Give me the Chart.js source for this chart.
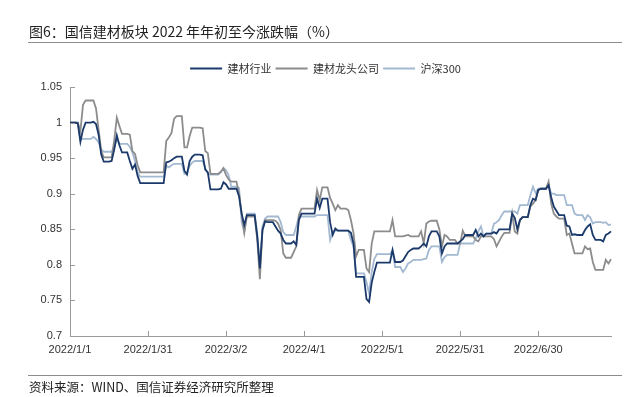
<!DOCTYPE html>
<html>
<head>
<meta charset="utf-8">
<script src="https://cdn.jsdelivr.net/npm/chart.js@4"></script>
<style>
  body { margin: 0; background: #fff; }
  #page { position: relative; width: 634px; height: 397px; overflow: hidden; font-family: "Noto Sans CJK SC", sans-serif; color: #222; }
  #chart { position: absolute; left: 0; top: 0; }
  .title { position: absolute; left: 29px; top: 21px; font-size: 14px; line-height: 20px; }
  .source { position: absolute; left: 29px; top: 378px; font-size: 12.5px; line-height: 18px; }
  .rule { position: absolute; left: 28px; width: 594px; height: 1px; background: #8c8c8c; }
</style>
</head>
<body>
<div id="page">
  <canvas id="chart" width="634" height="397"></canvas>
  <div class="title">图6：国信建材板块 2022 年年初至今涨跌幅（%）</div>
  <div class="rule" style="top:42px"></div>
  <div class="rule" style="top:375px"></div>
  <div class="source">资料来源：WIND、国信证券经济研究所整理</div>
</div>
<script>
// one label per calendar day, 2022/1/1 .. 2022/7/28
const startDate = new Date(2022, 0, 1)
const dayCount = 209
const dates = []
for (let i = 0; i < dayCount; i++) {
  const d = new Date(startDate.getFullYear(), startDate.getMonth(), startDate.getDate() + i)
  dates.push(d.getFullYear() + '/' + (d.getMonth() + 1) + '/' + d.getDate())
}
const xTickLabels = ['2022/1/1', '2022/1/31', '2022/3/2', '2022/4/1', '2022/5/1', '2022/5/31', '2022/6/30']
const yTickValues = [0.7, 0.75, 0.8, 0.85, 0.9, 0.95, 1, 1.05]
const yTickLabels = ['0.7', '0.75', '0.8', '0.85', '0.9', '0.95', '1', '1.05']

const seriesNames = ['建材行业', '建材龙头公司', '沪深300']

// rows of 7 days, each row starts on a Saturday
const industry = [
  1.000, 1.000, 1.000, 0.999, 0.973, 0.990, 1.000,
  1.000, 1.000, 1.001, 0.998, 0.983, 0.955, 0.945,
  0.945, 0.945, 0.946, 0.962, 0.982, 0.968, 0.958,
  0.958, 0.958, 0.946, 0.935, 0.941, 0.925, 0.915,
  0.915, 0.915, 0.915, 0.915, 0.915, 0.915, 0.915,
  0.915, 0.915, 0.944, 0.945, 0.947, 0.950, 0.952,
  0.952, 0.952, 0.932, 0.927, 0.946, 0.952, 0.955,
  0.955, 0.955, 0.954, 0.934, 0.930, 0.906, 0.906,
  0.906, 0.906, 0.907, 0.916, 0.913, 0.907, 0.907,
  0.907, 0.907, 0.896, 0.872, 0.856, 0.870, 0.870,
  0.870, 0.870, 0.840, 0.795, 0.849, 0.861, 0.860,
  0.860, 0.860, 0.854, 0.848, 0.844, 0.835, 0.830,
  0.830, 0.830, 0.833, 0.828, 0.863, 0.872, 0.872,
  0.872, 0.872, 0.872, 0.872, 0.893, 0.880, 0.893,
  0.893, 0.893, 0.860, 0.842, 0.851, 0.848, 0.848,
  0.848, 0.848, 0.848, 0.845, 0.830, 0.783, 0.783,
  0.783, 0.783, 0.752, 0.748, 0.775, 0.790, 0.803,
  0.803, 0.803, 0.803, 0.803, 0.803, 0.821, 0.804,
  0.804, 0.804, 0.806, 0.812, 0.818, 0.821, 0.823,
  0.823, 0.823, 0.826, 0.830, 0.826, 0.840, 0.847,
  0.847, 0.847, 0.840, 0.816, 0.826, 0.830, 0.830,
  0.830, 0.830, 0.830, 0.833, 0.836, 0.842, 0.842,
  0.842, 0.842, 0.849, 0.840, 0.844, 0.840, 0.844,
  0.844, 0.844, 0.846, 0.844, 0.850, 0.850, 0.850,
  0.850, 0.850, 0.872, 0.866, 0.850, 0.863, 0.867,
  0.867, 0.867, 0.884, 0.893, 0.891, 0.905, 0.907,
  0.907, 0.907, 0.912, 0.895, 0.882, 0.876, 0.870,
  0.870, 0.870, 0.855, 0.854, 0.842, 0.843, 0.842,
  0.842, 0.842, 0.849, 0.854, 0.857, 0.842, 0.835,
  0.835, 0.835, 0.833, 0.842, 0.844, 0.847
]
const leaders = [
  1.000, 1.000, 1.000, 1.000, 0.988, 1.025, 1.031,
  1.031, 1.031, 1.031, 1.020, 0.990, 0.960, 0.951,
  0.951, 0.951, 0.951, 0.975, 1.007, 0.995, 0.984,
  0.984, 0.984, 0.983, 0.960, 0.956, 0.940, 0.930,
  0.930, 0.930, 0.930, 0.930, 0.930, 0.930, 0.930,
  0.930, 0.930, 0.974, 0.979, 0.985, 1.005, 1.009,
  1.009, 1.009, 0.965, 0.965, 0.981, 0.993, 0.993,
  0.993, 0.993, 0.992, 0.960, 0.957, 0.928, 0.928,
  0.928, 0.928, 0.931, 0.936, 0.926, 0.920, 0.917,
  0.917, 0.917, 0.900, 0.872, 0.845, 0.868, 0.868,
  0.868, 0.868, 0.835, 0.780, 0.849, 0.863, 0.863,
  0.863, 0.863, 0.862, 0.858, 0.849, 0.816, 0.810,
  0.810, 0.810, 0.818, 0.826, 0.870, 0.879, 0.879,
  0.879, 0.879, 0.879, 0.879, 0.905, 0.891, 0.909,
  0.909, 0.909, 0.894, 0.886, 0.877, 0.884, 0.879,
  0.879, 0.879, 0.877, 0.863, 0.845, 0.812, 0.821,
  0.821, 0.821, 0.795, 0.790, 0.830, 0.847, 0.847,
  0.847, 0.847, 0.847, 0.847, 0.847, 0.863, 0.840,
  0.840, 0.840, 0.840, 0.841, 0.842, 0.840, 0.840,
  0.840, 0.840, 0.847, 0.830, 0.858, 0.861, 0.862,
  0.862, 0.862, 0.850, 0.826, 0.842, 0.840, 0.835,
  0.835, 0.835, 0.830, 0.830, 0.848, 0.840, 0.840,
  0.840, 0.840, 0.835, 0.833, 0.840, 0.840, 0.840,
  0.840, 0.840, 0.836, 0.826, 0.833, 0.840, 0.845,
  0.845, 0.845, 0.872, 0.847, 0.844, 0.863, 0.867,
  0.867, 0.867, 0.882, 0.886, 0.891, 0.905, 0.907,
  0.907, 0.907, 0.917, 0.886, 0.872, 0.868, 0.865,
  0.865, 0.865, 0.842, 0.844, 0.830, 0.816, 0.816,
  0.816, 0.816, 0.826, 0.822, 0.823, 0.804, 0.793,
  0.793, 0.793, 0.793, 0.807, 0.802, 0.808
]
const hs300 = [
  1.000, 1.000, 1.000, 1.000, 0.976, 0.977, 0.977,
  0.977, 0.977, 0.980, 0.977, 0.972, 0.962, 0.959,
  0.959, 0.959, 0.959, 0.965, 0.976, 0.970, 0.970,
  0.970, 0.970, 0.966, 0.958, 0.946, 0.930, 0.924,
  0.924, 0.924, 0.924, 0.924, 0.924, 0.924, 0.924,
  0.924, 0.924, 0.939, 0.937, 0.940, 0.942, 0.942,
  0.942, 0.942, 0.928, 0.930, 0.939, 0.944, 0.946,
  0.946, 0.946, 0.946, 0.936, 0.928, 0.927, 0.927,
  0.927, 0.927, 0.930, 0.936, 0.933, 0.926, 0.910,
  0.910, 0.910, 0.908, 0.860, 0.846, 0.872, 0.872,
  0.872, 0.872, 0.844, 0.797, 0.854, 0.865, 0.868,
  0.868, 0.868, 0.868, 0.868, 0.860, 0.846, 0.842,
  0.842, 0.842, 0.842, 0.854, 0.868, 0.868, 0.868,
  0.868, 0.868, 0.868, 0.868, 0.870, 0.870, 0.870,
  0.870, 0.870, 0.835, 0.847, 0.848, 0.848, 0.848,
  0.848, 0.848, 0.848, 0.835, 0.826, 0.788, 0.788,
  0.788, 0.788, 0.776, 0.760, 0.790, 0.808, 0.815,
  0.815, 0.815, 0.815, 0.815, 0.815, 0.820, 0.797,
  0.797, 0.797, 0.790, 0.795, 0.802, 0.804, 0.807,
  0.807, 0.807, 0.807, 0.808, 0.809, 0.821, 0.826,
  0.826, 0.826, 0.826, 0.804, 0.811, 0.814, 0.814,
  0.814, 0.814, 0.814, 0.830, 0.830, 0.830, 0.830,
  0.830, 0.830, 0.837, 0.847, 0.854, 0.840, 0.844,
  0.844, 0.844, 0.858, 0.860, 0.863, 0.870, 0.875,
  0.875, 0.875, 0.875, 0.875, 0.872, 0.884, 0.884,
  0.884, 0.884, 0.898, 0.910, 0.901, 0.907, 0.907,
  0.907, 0.907, 0.912, 0.900, 0.900, 0.898, 0.898,
  0.898, 0.898, 0.884, 0.884, 0.884, 0.872, 0.870,
  0.870, 0.870, 0.863, 0.870, 0.867, 0.858, 0.860,
  0.860, 0.860, 0.859, 0.860, 0.856, 0.857
]

const colors = ['#1b3a6b', '#8c8c8c', '#a3b9d2']
const axisColor = '#9a9a9a'
const tickFont = { family: 'Liberation Sans, Arial, sans-serif', size: 11 }

// small tick marks pointing into the plot, like the original
const innerTicks = {
  id: 'innerTicks',
  beforeInit(chart) {
    // leave a bit more room under the legend
    const fit = chart.legend.fit
    chart.legend.fit = function () {
      fit.call(this)
      this.height += 3
    }
  },
  afterDraw(chart) {
    const { ctx, chartArea, scales } = chart
    ctx.save()
    ctx.strokeStyle = axisColor
    ctx.lineWidth = 1
    ctx.beginPath()
    scales.y.ticks.forEach((t, i) => {
      const py = Math.round(scales.y.getPixelForTick(i)) + 0.5
      ctx.moveTo(chartArea.left, py)
      ctx.lineTo(chartArea.left + 5, py)
    })
    scales.x.ticks.forEach((t, i) => {
      const px = Math.round(scales.x.getPixelForTick(i)) + 0.5
      ctx.moveTo(px, chartArea.bottom)
      ctx.lineTo(px, chartArea.bottom - 5)
    })
    ctx.stroke()
    ctx.restore()
  }
}

const chart = new Chart(document.getElementById('chart').getContext('2d'), {
  type: 'line',
  data: {
    labels: dates,
    datasets: [industry, leaders, hs300].map((values, i) => ({
      label: seriesNames[i],
      data: values,
      borderColor: colors[i],
      backgroundColor: colors[i],
      borderWidth: 1.8,
      pointRadius: 0,
      tension: 0
    }))
  },
  options: {
    responsive: false,
    animation: false,
    devicePixelRatio: 1,
    layout: { padding: { left: 40, right: 23, top: 59, bottom: 0 } },
    plugins: {
      legend: {
        position: 'top',
        labels: {
          usePointStyle: true,
          pointStyle: 'line',
          pointStyleWidth: 32,
          padding: 4,
          color: '#333',
          font: { family: 'Noto Sans CJK SC', size: 11 }
        }
      },
      tooltip: { enabled: false }
    },
    scales: {
      x: {
        type: 'category',
        grid: { display: false, drawTicks: false },
        border: { display: true, color: axisColor, width: 1 },
        afterBuildTicks: s => {
          s.ticks = s.ticks.filter(t => xTickLabels.includes(dates[t.value]))
        },
        afterFit: s => { s.height = 61 },
        ticks: { autoSkip: false, maxRotation: 0, padding: 7, color: '#333', font: tickFont }
      },
      y: {
        min: 0.7,
        max: 1.05,
        grid: { display: false, drawTicks: false },
        border: { display: true, color: axisColor, width: 1 },
        afterBuildTicks: s => {
          s.ticks = yTickValues.map(v => ({ value: v }))
        },
        afterFit: s => { s.width = 30 },
        ticks: {
          padding: 8,
          color: '#333',
          font: tickFont,
          callback: (v, i) => yTickLabels[i]
        }
      }
    }
  },
  plugins: [innerTicks]
})
</script>
</body>
</html>
